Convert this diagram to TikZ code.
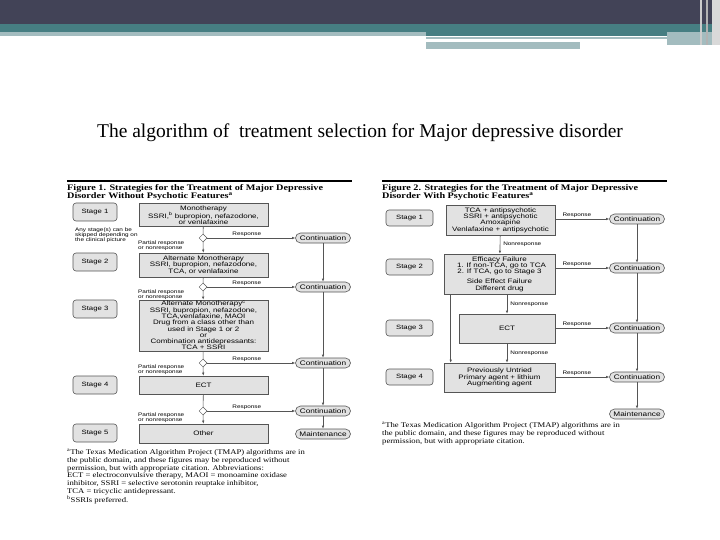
\documentclass[tikz,border=0pt]{standalone}
\usepackage{fontspec}
\setmainfont{Liberation Serif}
\setsansfont{Liberation Sans}
\newfontfamily\wsans[FakeStretch=1.25]{Liberation Sans}
\newfontfamily\wserif[FakeStretch=1.2]{Liberation Serif}
\usetikzlibrary{shapes.geometric,arrows.meta}
\definecolor{hdark}{HTML}{424357}
\definecolor{hteal}{HTML}{467E82}
\definecolor{hlight}{HTML}{A3BCBF}
\definecolor{bfill}{HTML}{E2E2E2}
\definecolor{lgray}{HTML}{555555}
\tikzset{
 stg/.style={draw=lgray,fill=bfill,rounded corners=3pt,line width=0.6pt,font=\wsans\fontsize{6.2}{7}\selectfont,inner sep=0pt},
 tbox/.style={draw=lgray,fill=bfill,line width=0.6pt,font=\wsans\fontsize{6.4}{6.3}\selectfont,align=center,inner sep=0pt},
 cont/.style={draw=lgray,fill=bfill,rounded corners=5pt,line width=0.6pt,font=\wsans\fontsize{6.6}{7}\selectfont,minimum width=55pt,minimum height=10pt,inner sep=0pt},
 dia/.style={draw=lgray,fill=white,diamond,minimum size=8pt,inner sep=0pt,line width=0.5pt},
 ar/.style={draw=lgray,line width=0.6pt,-{Latex[length=3pt,width=2.5pt]}},
 ln/.style={draw=lgray,line width=0.6pt},
 sm/.style={font=\wsans\fontsize{5.1}{4.8}\selectfont,align=left,inner sep=0pt},
 ttl/.style={font=\wserif\bfseries\fontsize{8.5}{8}\selectfont,align=left,inner sep=0pt,anchor=north west},
 fn/.style={font=\wserif\fontsize{7.2}{7.8}\selectfont,align=left,inner sep=0pt,anchor=north west}
}
\begin{document}
\begin{tikzpicture}[x=1pt,y=-1pt]
\useasboundingbox (0,0) rectangle (720,540);
\fill[white] (0,0) rectangle (720,540);
% header
\fill[hdark] (0,0) rectangle (720,24);
\fill[hteal] (0,24) rectangle (720,32);
\fill[hlight] (0,32) rectangle (426,36);
\fill[hteal] (426,32) rectangle (710,36);
\fill[hlight] (426,37) rectangle (667,39);
\fill[hlight] (426,42) rectangle (580,49);
\fill[hlight] (667,32) rectangle (712,45);
\fill[gray!40] (700,0) rectangle (702,45);
\fill[gray!60] (706,0) rectangle (708,45);
\fill[gray!30] (712,0) rectangle (720,45);
\node[font=\fontsize{19.5}{22}\selectfont] (title) at (360,133) {The algorithm of\ \ treatment selection for Major depressive disorder};

% ===== Figure 1 =====
\draw[line width=1.5pt] (67,181) -- (352,181);
\node[ttl] (t1) at (67,184) {Figure 1. Strategies for the Treatment of Major Depressive\\Disorder Without Psychotic Features\textsuperscript{a}};
\node[stg,minimum width=44pt,minimum height=18pt] (s1) at (95,212) {Stage 1};
\node[stg,minimum width=44pt,minimum height=18pt] (s2) at (95,262) {Stage 2};
\node[stg,minimum width=44pt,minimum height=18pt] (s3) at (95,309) {Stage 3};
\node[stg,minimum width=44pt,minimum height=18pt] (s4) at (95,385) {Stage 4};
\node[stg,minimum width=44pt,minimum height=18pt] (s5) at (95,433) {Stage 5};
\node[sm,anchor=north west] (skip) at (75,228) {Any stage(s) can be\\skipped depending on\\the clinical picture};
\node[tbox,minimum width=129pt,minimum height=23pt] (b1) at (203.5,215) {Monotherapy\\SSRI,\textsuperscript{b} bupropion, nefazodone,\\or venlafaxine};
\node[tbox,minimum width=129pt,minimum height=24pt] (b2) at (203.5,265) {Alternate Monotherapy\\SSRI, bupropion, nefazodone,\\TCA, or venlafaxine};
\node[tbox,minimum width=129pt,minimum height=51pt] (b3) at (203.5,325.5) {Alternate Monotherapy\textsuperscript{c}\\SSRI, bupropion, nefazodone,\\TCA,venlafaxine, MAOI\\Drug from a class other than\\used in Stage 1 or 2\\or\\Combination antidepressants:\\TCA + SSRI};
\node[tbox,minimum width=129pt,minimum height=18pt] (b4) at (203.5,385) {ECT};
\node[tbox,minimum width=129pt,minimum height=19pt] (b5) at (203.5,433.5) {Other};
\node[dia] (d1) at (203,238) {};
\node[dia] (d2) at (203,287) {};
\node[dia] (d3) at (203,363) {};
\node[dia] (d4) at (203,411) {};
\node[cont] (c1) at (323,238) {Continuation};
\node[cont] (c2) at (323,287) {Continuation};
\node[cont] (c3) at (323,363) {Continuation};
\node[cont] (c4) at (323,411) {Continuation};
\node[cont] (m1) at (323,434) {Maintenance};
\foreach \a/\b in {b1/d1,b2/d2,b3/d3,b4/d4} \draw[ln] (\a) -- (\b);
\foreach \a/\b in {d1/b2,d2/b3,d3/b4,d4/b5} \draw[ar] (\a) -- (\b);
\foreach \d/\c in {d1/c1,d2/c2,d3/c3,d4/c4} {\draw[ar] (\d) -- node[sm,above=1.5pt,pos=0.45] {Response} (\c);}
\foreach \a/\b in {c1/c2,c2/c3,c3/c4,c4/m1} \draw[ar] (\a) -- (\b);
\foreach \y/\n in {241/p1,289.5/p2,365/p3,413/p4} \node[sm,anchor=north west] (\n) at (138,\y) {Partial response\\or nonresponse};
\node[fn] (f1) at (67,449) {\textsuperscript{a}The Texas Medication Algorithm Project (TMAP) algorithms are in\\the public domain, and these figures may be reproduced without\\permission, but with appropriate citation. Abbreviations:\\ECT = electroconvulsive therapy, MAOI = monoamine oxidase\\inhibitor, SSRI = selective serotonin reuptake inhibitor,\\TCA = tricyclic antidepressant.\\\textsuperscript{b}SSRIs preferred.};

% ===== Figure 2 =====
\draw[line width=1.5pt] (382,181) -- (667,181);
\node[ttl] (t2) at (382,184) {Figure 2. Strategies for the Treatment of Major Depressive\\Disorder With Psychotic Features\textsuperscript{a}};
\node[stg,minimum width=47pt,minimum height=16pt] (r1) at (409.5,218) {Stage 1};
\node[stg,minimum width=47pt,minimum height=16pt] (r2) at (409.5,267) {Stage 2};
\node[stg,minimum width=47pt,minimum height=16pt] (r3) at (409.5,328) {Stage 3};
\node[stg,minimum width=47pt,minimum height=16pt] (r4) at (409.5,377) {Stage 4};
\node[tbox,minimum width=109pt,minimum height=30pt] (q1) at (500.5,220) {TCA + antipsychotic\\SSRI + antipsychotic\\Amoxapine\\Venlafaxine + antipsychotic};
\node[tbox,minimum width=111pt,minimum height=40pt] (q2) at (499.5,274) {Efficacy Failure\\\phantom{x}1. If non-TCA, go to TCA\\2. If TCA, go to Stage 3\\[4pt]Side Effect Failure\\Different drug};
\node[tbox,minimum width=96pt,minimum height=29pt] (q3) at (507,328.5) {ECT};
\node[tbox,minimum width=111pt,minimum height=29pt] (q4) at (499.5,377.5) {Previously Untried\\Primary agent + lithium\\Augmenting agent};
\node[cont] (k1) at (637,219) {Continuation};
\node[cont] (k2) at (637,268) {Continuation};
\node[cont] (k3) at (637,328) {Continuation};
\node[cont] (k4) at (637,377) {Continuation};
\node[cont] (m2) at (637,414) {Maintenance};
\draw[ar] (q1) -- node[sm,right=3pt] {Nonresponse} (q2);
\draw[ar] (q2.south -| q3) -- node[sm,right=3pt] {Nonresponse} (q3);
\draw[ar] (q3.south) -- node[sm,right=3pt] {Nonresponse} (q4.north -| q3);
\coordinate (lb) at ([xshift=7pt]q2.south west);
\draw[ar] (lb) -- (lb |- q4.north);
\foreach \q/\k in {q1/k1,q2/k2,q3/k3,q4/k4} {\draw[ar] (\q.east |- \k) -- node[sm,above=1.5pt,pos=0.4] {Response} (\k);}
\foreach \a/\b in {k1/k2,k2/k3,k3/k4,k4/m2} \draw[ar] (\a) -- (\b);
\node[fn] (f2) at (382,422) {\textsuperscript{a}The Texas Medication Algorithm Project (TMAP) algorithms are in\\the public domain, and these figures may be reproduced without\\permission, but with appropriate citation.};
\end{tikzpicture}
\end{document}
